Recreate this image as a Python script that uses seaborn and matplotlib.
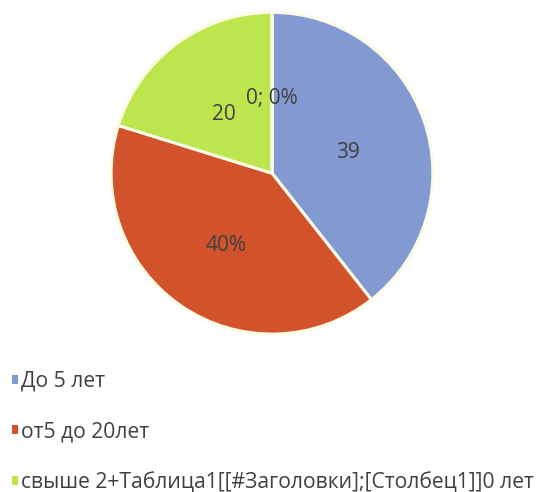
import matplotlib
matplotlib.use("Agg")
import matplotlib.pyplot as plt
import matplotlib.transforms as mtransforms
from matplotlib.patches import Patch
import seaborn as sns

# data
categories = ["До 5 лет", "от5 до 20лет",
              "свыше 2+Таблица1[[#Заголовки];[Столбец1]]0 лет", ""]
values = [39, 40, 20, 0]
data_labels = ["39", "40%", "20", "0; 0%"]
colors = ["#8399d2", "#d2522c", "#bde54e", "#bde54e"]

sns.set_theme(style="white")
plt.rcParams['font.family'] = ['Open Sans', 'DejaVu Sans']

fig = plt.figure(figsize=(5.42, 4.92), dpi=100)
ax = fig.add_axes([0.2048, 0.321, 0.594, 0.654])

wedges, texts = ax.pie(
    values,
    labels=data_labels,
    colors=colors,
    startangle=90,
    counterclock=False,
    labeldistance=0.5,
    wedgeprops=dict(edgecolor="#fbfbe6", linewidth=2.2),
    textprops=dict(color="#404040", fontsize=15),
)
shift = mtransforms.ScaledTranslation(0, -6 / 100, fig.dpi_scale_trans)
for t in texts:
    t.set_ha("center")
    t.set_va("center")
    t.set_transform(t.get_transform() + shift)
ax.set_xlim(-1, 1)
ax.set_ylim(-1, 1)
ax.set_aspect("equal")

handles = [Patch(facecolor=c, edgecolor="none") for c in colors[:3]]
fig.legend(handles, categories[:3], loc="upper left",
           bbox_to_anchor=(0.022, 0.246), frameon=False,
           handlelength=0.27, handleheight=0.27, handletextpad=0.15,
           labelspacing=1.4, prop=dict(size=15.2),
           labelcolor="#404040", borderaxespad=0, borderpad=0)

plt.savefig("out.png", dpi=100)
